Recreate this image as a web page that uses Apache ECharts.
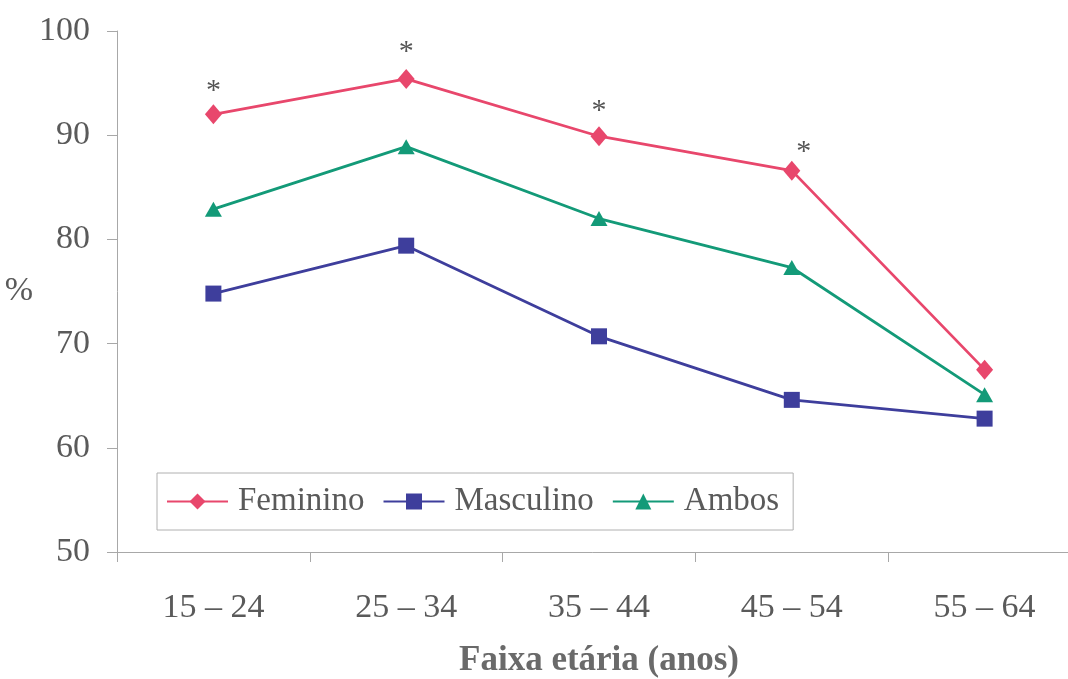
<!DOCTYPE html>
<html>
<head>
<meta charset="utf-8">
<script src="https://cdn.jsdelivr.net/npm/echarts@6/dist/echarts.min.js"></script>
<style>
  html, body { margin: 0; padding: 0; background: #fff; }
  #chart { width: 1068px; height: 679px; }
</style>
</head>
<body>
<div id="chart"></div>
<script>
// Age groups and percentages per sex
const categories = ['15 – 24', '25 – 34', '35 – 44', '45 – 54', '55 – 64'];
const feminino = [92.0, 95.4, 89.9, 86.6, 67.5];
const masculino = [74.8, 79.4, 70.7, 64.6, 62.8];
const ambos = [82.9, 88.9, 82.0, 77.3, 65.1];
// Significance markers drawn above the Feminino points
const significant = [true, true, true, true, false];
const yTicks = { min: 50, max: 100, interval: 10 };

const serif = '"Liberation Serif", "DejaVu Serif", serif';
const textGrey = '#5a5a5a';
const axisGrey = '#a8a8a8';

const starOffsets = [[0, 7], [0, 3], [0, 5], [12, 11], [0, 0]];

const femData = feminino.map((v, i) => ({
  value: v,
  label: {
    show: significant[i],
    position: 'top',
    formatter: '*',
    offset: starOffsets[i],
    fontFamily: serif,
    fontSize: 30,
    color: '#555'
  }
}));

const chart = echarts.init(document.getElementById('chart'));
chart.setOption({
  animation: false,
  backgroundColor: '#fff',
  grid: { left: 117, right: -13, top: 31, bottom: 127, outerBoundsMode: 'none', containLabel: false },
  legend: {
    left: 157,
    top: 473,
    orient: 'horizontal',
    backgroundColor: '#fff',
    borderColor: '#b0b0b0',
    borderWidth: 1,
    borderRadius: 0,
    padding: [12, 14, 12, 9],
    itemGap: 18,
    itemWidth: 61,
    itemHeight: 20,
    textStyle: { fontFamily: serif, fontSize: 33, color: textGrey, padding: [0, 0, 0, 5] },
    data: ['Feminino', 'Masculino', 'Ambos']
  },
  xAxis: {
    type: 'category',
    data: categories,
    boundaryGap: true,
    name: 'Faixa etária (anos)',
    nameLocation: 'middle',
    nameGap: 91,
    nameTextStyle: { fontFamily: serif, fontSize: 35, fontWeight: 'bold', color: '#6a6a6a' },
    axisLine: { lineStyle: { color: axisGrey, width: 1 } },
    axisTick: { show: true, length: 10, lineStyle: { color: axisGrey } },
    axisLabel: { fontFamily: serif, fontSize: 34, color: textGrey, margin: 39 }
  },
  yAxis: {
    type: 'value',
    min: yTicks.min,
    max: yTicks.max,
    interval: yTicks.interval,
    name: '%',
    nameLocation: 'middle',
    nameGap: 70,
    nameRotate: 0,
    nameTextStyle: { fontFamily: serif, fontSize: 34, color: textGrey, padding: [5, 0, 0, 0] },
    axisLine: { show: true, lineStyle: { color: axisGrey, width: 1 } },
    axisTick: { show: true, length: 10, lineStyle: { color: axisGrey } },
    axisLabel: { fontFamily: serif, fontSize: 34, color: textGrey, margin: 27 },
    splitLine: { show: false }
  },
  series: [
    {
      name: 'Feminino',
      type: 'line',
      data: femData,
      symbol: 'diamond',
      symbolSize: [17, 20],
      lineStyle: { color: '#e8476c', width: 2.8 },
      itemStyle: { color: '#e8476c' }
    },
    {
      name: 'Masculino',
      type: 'line',
      data: masculino,
      symbol: 'rect',
      symbolSize: 16,
      lineStyle: { color: '#3e3e9c', width: 2.8 },
      itemStyle: { color: '#3e3e9c' }
    },
    {
      name: 'Ambos',
      type: 'line',
      data: ambos,
      symbol: 'triangle',
      symbolSize: [17, 15],
      lineStyle: { color: '#139a78', width: 2.8 },
      itemStyle: { color: '#139a78' }
    }
  ]
});
</script>
</body>
</html>
